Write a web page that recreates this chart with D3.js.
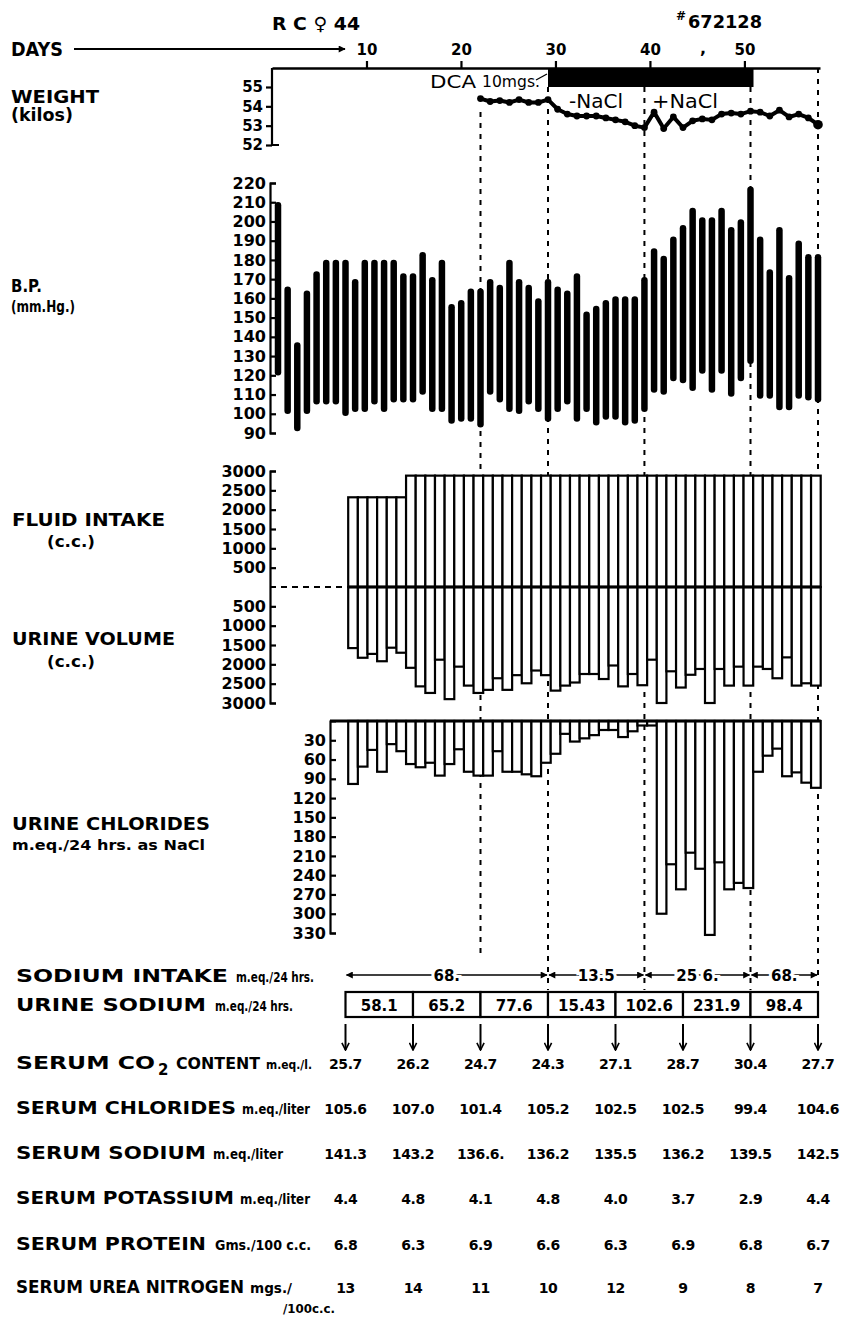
<!DOCTYPE html>
<html>
<head>
<meta charset="utf-8">
<script src="https://cdn.jsdelivr.net/npm/d3@7"></script>
<style>
  body { margin: 0; background: #fff; }
  svg text { font-family: "DejaVu Sans", "Liberation Sans", sans-serif; fill: #000; }
</style>
</head>
<body>
<div id="chart"></div>
<script>
// ---- data ----
const dayTicks = [10, 20, 30, 40, 50];
const markerDays = [22, 29, 39, 50, 57];

const bpDays = d3.range(1, 58);
const bpHigh = [210,166,137,164,174,180,180,180,170,180, 180,180,180,173,173,184,171,180,157,159,
                165,165,170,167,180,170,167,160,170,166, 164,173,153,156,159,161,161,161,171,186,
                182,192,198,207,202,202,207,197,201,218, 192,175,197,172,190,183,183];
const bpLow  = [120,100,91,100,105,105,105,99,101,101, 105,101,106,106,106,110,101,101,95,96,
                96,93,110,106,101,100,105,101,96,101, 105,96,101,94,97,97,94,95,101,111,
                110,117,116,112,121,111,121,109,117,126, 108,108,102,102,108,107,106];

const weightDays = d3.range(22, 58);
const weightKg = [54.4,54.25,54.3,54.2,54.35,54.2,54.2,54.35, 53.85,53.6,53.5,53.5,53.5,53.4,53.3,53.2,
                  53.0,52.9,53.7,52.85,53.45,52.9,53.25,53.35, 53.3,53.6,53.65,53.6,53.75,53.7,53.5,53.8,
                  53.45,53.6,53.4,53.05];

const fluidDays = d3.range(9, 58);
const fluidIntake = [2320,2320,2320,2320,2320,2320,
                     2880,2880,2880,2880,2880,2880,2880,2880,2880,2880,2880,2880,2880,2880,2880,
                     2880,2880,2880,2880,2880,2880,2880,2880,2880,2880,2880,2880,2880,2880,2880,
                     2880,2880,2880,2880,2880,2880,2880,2880,2880,2880,2880,2880,2880];
const urineVolume = [1580,1830,1730,1920,1570,1700,2090,2570,2740,1880,
                     2900,2060,2550,2740,2660,2360,2660,2280,2490,2160,
                     2280,2680,2550,2470,2250,2250,2380,2030,2570,2250,
                     2540,1880,3000,2180,2600,2270,2120,3000,2120,2550,
                     2060,2550,2060,2120,2360,1820,2550,2490,2550];
const urineChlorides = [98,71,45,79,36,47,67,72,65,85, 67,44,79,85,85,47,79,79,83,86,
                        65,51,20,32,27,22,14,14,25,16, 7,7,300,223,262,205,230,333,220,262,
                        252,260,79,54,43,86,80,96,104];

const dcaStart = 29, dcaEnd = 50;

const sodiumIntakeFrom = [8, 29, 39, 50];
const sodiumIntakeTo = [29, 39, 50, 57];
const sodiumIntake = ["68.", "13.5", "25 6.", "68."];

const sampleDays = [8, 15, 22, 29, 36, 43, 50, 57];
const urineSodium = ["58.1", "65.2", "77.6", "15.43", "102.6", "231.9", "98.4"];
const serumCO2 = ["25.7", "26.2", "24.7", "24.3", "27.1", "28.7", "30.4", "27.7"];
const serumChlorides = ["105.6", "107.0", "101.4", "105.2", "102.5", "102.5", "99.4", "104.6"];
const serumSodium = ["141.3", "143.2", "136.6.", "136.2", "135.5", "136.2", "139.5", "142.5"];
const serumPotassium = ["4.4", "4.8", "4.1", "4.8", "4.0", "3.7", "2.9", "4.4"];
const serumProtein = ["6.8", "6.3", "6.9", "6.6", "6.3", "6.9", "6.8", "6.7"];
const serumUrea = ["13", "14", "11", "10", "12", "9", "8", "7"];

// ---- drawing ----
const W = 849, H = 1318;
const svg = d3.select("#chart").append("svg")
  .attr("width", W).attr("height", H).attr("viewBox", `0 0 ${W} ${H}`);
svg.append("rect").attr("width", W).attr("height", H).attr("fill", "#fff");

const defs = svg.append("defs");
defs.append("marker").attr("id", "head").attr("viewBox", "0 0 10 10")
  .attr("refX", 9).attr("refY", 5).attr("markerWidth", 9).attr("markerHeight", 7)
  .attr("markerUnits", "userSpaceOnUse").attr("orient", "auto-start-reverse")
  .append("path").attr("d", "M0,0L10,5L0,10Z").attr("fill", "#000");
defs.append("marker").attr("id", "vee").attr("viewBox", "0 0 10 10")
  .attr("refX", 9).attr("refY", 5).attr("markerWidth", 9).attr("markerHeight", 9)
  .attr("markerUnits", "userSpaceOnUse").attr("orient", "auto")
  .append("path").attr("d", "M1,1L9,5L1,9").attr("fill", "none").attr("stroke", "#000").attr("stroke-width", 1.8);

// day scale (one bar per day) and the printed day axis
const x = d3.scaleLinear().domain([1, 57]).range([278, 818]);
const step = x(2) - x(1);
const xDays = d3.scaleLinear().domain([0, 58]).range([272, 820]);

const yW = d3.scaleLinear().domain([52, 55]).range([145, 87]);
const yBP = d3.scaleLinear().domain([90, 220]).range([433, 183]);
const yF = d3.scaleLinear().domain([-3000, 3000]).range([703, 471]);
const yC = d3.scaleLinear().domain([0, 330]).range([721, 933]);

function txt(x0, y0, s, size, opts = {}) {
  const t = svg.append("text").attr("x", x0).attr("y", y0)
    .attr("font-size", size).attr("font-weight", opts.weight || "bold")
    .attr("text-anchor", opts.anchor || "start").text(s);
  if (opts.width) t.attr("textLength", opts.width).attr("lengthAdjust", "spacingAndGlyphs");
  return t;
}

function styleAxis(g, size) {
  g.attr("font-size", null).attr("font-family", null);
  g.selectAll("text").attr("font-size", size).attr("font-weight", "bold").attr("fill", "#000");
  g.selectAll("line, path").attr("stroke", "#000").attr("stroke-width", 2.2);
}

// dashed guide lines (drawn first, bars cover them)
const dashTop = { 22: 112, 29: 87, 39: 87, 50: 87, 57: 68 };
const dashBottom = { 22: 958, 29: 990, 39: 990, 50: 990, 57: 990 };
svg.append("g").selectAll("line").data(markerDays).join("line")
  .attr("x1", d => x(d)).attr("x2", d => x(d))
  .attr("y1", d => dashTop[d]).attr("y2", d => dashBottom[d])
  .attr("stroke", "#000").attr("stroke-width", 2).attr("stroke-dasharray", "5,6");

// ---- header ----
txt(272, 30, "R C \u2640 44", 18, { width: 88 });
txt(688, 28, "672128", 18, { width: 74 });
txt(676, 20, "#", 12);
txt(11, 56, "DAYS", 19, { width: 52 });
svg.append("line").attr("x1", 74).attr("x2", 345).attr("y1", 49).attr("y2", 49)
  .attr("stroke", "#000").attr("stroke-width", 2).attr("marker-end", "url(#head)");
txt(700, 54, ",", 16);

const topAxis = svg.append("g").attr("transform", "translate(0,68)")
  .call(d3.axisTop(xDays).tickValues(dayTicks).tickSize(7).tickSizeOuter(0).tickPadding(6));
styleAxis(topAxis, 15);
topAxis.select(".domain").attr("stroke-width", 2.5);

// ---- weight ----
txt(11, 103, "WEIGHT", 18, { width: 88 });
txt(11, 121, "(kilos)", 17, { width: 62 });
const wAxis = svg.append("g").attr("transform", "translate(272,0)")
  .call(d3.axisLeft(yW).tickValues([52, 53, 54, 55]).tickFormat(d3.format("d"))
    .tickSize(6).tickSizeOuter(0).tickPadding(3));
styleAxis(wAxis, 15);
wAxis.select(".domain").remove();
svg.append("path").attr("d", `M272,68V${yW(52)}H279`).attr("fill", "none")
  .attr("stroke", "#000").attr("stroke-width", 2.2);

// DCA bar and labels
svg.append("rect").attr("x", x(dcaStart)).attr("y", 68)
  .attr("width", x(dcaEnd) - x(dcaStart) + 3).attr("height", 19).attr("fill", "#000");
txt(430, 88, "DCA", 17, { weight: "normal", width: 46 });
txt(482, 87, "10mgs.", 15, { weight: "normal", width: 58 });
svg.append("path").attr("d", `M536,80L${x(dcaStart) - 1},74`).attr("stroke", "#000")
  .attr("stroke-width", 1.3).attr("fill", "none");
txt(569, 108, "-NaCl", 19, { weight: "normal", width: 54 });
txt(652, 108, "+NaCl", 19, { weight: "normal", width: 66 });

const wLine = d3.line().x((d, i) => x(weightDays[i])).y(d => yW(d)).curve(d3.curveLinear);
svg.append("path").datum(weightKg).attr("d", wLine).attr("fill", "none")
  .attr("stroke", "#000").attr("stroke-width", 4).attr("stroke-linejoin", "round");
svg.append("g").selectAll("circle").data(weightKg).join("circle")
  .attr("cx", (d, i) => x(weightDays[i])).attr("cy", d => yW(d)).attr("r", 3.4).attr("fill", "#000");
svg.append("circle").attr("cx", x(57)).attr("cy", yW(weightKg[weightKg.length - 1])).attr("r", 4.8);

// ---- blood pressure ----
txt(11, 292, "B.P.", 17, { width: 31 });
txt(11, 312, "(mm.Hg.)", 16, { width: 64 });
const bpAxis = svg.append("g").attr("transform", "translate(270,0)")
  .call(d3.axisLeft(yBP).tickValues(d3.range(90, 221, 10)).tickSize(-6).tickSizeOuter(-6).tickPadding(4));
styleAxis(bpAxis, 16);
svg.append("g").selectAll("line").data(bpDays).join("line")
  .attr("x1", d => x(d)).attr("x2", d => x(d))
  .attr("y1", (d, i) => yBP(bpHigh[i]) + 3).attr("y2", (d, i) => yBP(bpLow[i]) - 3)
  .attr("stroke", "#000").attr("stroke-width", 6.5).attr("stroke-linecap", "round");

// ---- fluid intake / urine volume ----
txt(12, 526, "FLUID INTAKE", 17, { width: 153 });
txt(47, 547, "(c.c.)", 16, { width: 48 });
txt(12, 645, "URINE VOLUME", 17, { width: 163 });
txt(47, 667, "(c.c.)", 16, { width: 48 });
const fTicks = [3000, 2500, 2000, 1500, 1000, 500, -500, -1000, -1500, -2000, -2500, -3000];
const fAxis = svg.append("g").attr("transform", "translate(270,0)")
  .call(d3.axisLeft(yF).tickValues(fTicks).tickFormat(d => Math.abs(d))
    .tickSize(-6).tickSizeOuter(-6).tickPadding(4));
styleAxis(fAxis, 16);
svg.append("line").attr("x1", 270).attr("x2", x(fluidDays[0]) - step * 0.72)
  .attr("y1", yF(0)).attr("y2", yF(0))
  .attr("stroke", "#000").attr("stroke-width", 2).attr("stroke-dasharray", "6,5");

const barLeft = d => x(d) - step * 0.72;
svg.append("g").selectAll("rect").data(fluidIntake).join("rect")
  .attr("x", (d, i) => barLeft(fluidDays[i])).attr("width", step)
  .attr("y", d => yF(d)).attr("height", d => yF(0) - yF(d))
  .attr("fill", "#fff").attr("stroke", "#000").attr("stroke-width", 2.2);
svg.append("g").selectAll("rect").data(urineVolume).join("rect")
  .attr("x", (d, i) => barLeft(fluidDays[i])).attr("width", step)
  .attr("y", yF(0)).attr("height", d => yF(-d) - yF(0))
  .attr("fill", "#fff").attr("stroke", "#000").attr("stroke-width", 2.2);
svg.append("line").attr("x1", barLeft(fluidDays[0])).attr("x2", barLeft(57) + step)
  .attr("y1", yF(0)).attr("y2", yF(0)).attr("stroke", "#000").attr("stroke-width", 2.8);

// ---- urine chlorides ----
txt(12, 830, "URINE CHLORIDES", 17, { width: 198 });
txt(12, 850, "m.eq./24 hrs. as NaCl", 14, { width: 193 });
const cAxis = svg.append("g").attr("transform", "translate(330,0)")
  .call(d3.axisLeft(yC).tickValues(d3.range(30, 331, 30)).tickSize(-6).tickSizeOuter(-6).tickPadding(4));
styleAxis(cAxis, 16);
svg.append("g").selectAll("rect").data(urineChlorides).join("rect")
  .attr("x", (d, i) => barLeft(fluidDays[i])).attr("width", step)
  .attr("y", yC(0)).attr("height", d => yC(d) - yC(0))
  .attr("fill", "#fff").attr("stroke", "#000").attr("stroke-width", 2.2);
svg.append("line").attr("x1", 330).attr("x2", barLeft(57) + step)
  .attr("y1", yC(0)).attr("y2", yC(0)).attr("stroke", "#000").attr("stroke-width", 2.8);

// ---- sodium intake arrows ----
txt(16, 982, "SODIUM INTAKE", 18, { width: 212 });
txt(236, 982, "m.eq./24 hrs.", 14, { width: 78 });
const naG = svg.append("g");
naG.selectAll("line").data(sodiumIntake).join("line")
  .attr("x1", (d, i) => x(sodiumIntakeFrom[i]) + 1).attr("x2", (d, i) => x(sodiumIntakeTo[i]) - 1)
  .attr("y1", 975).attr("y2", 975).attr("stroke", "#000").attr("stroke-width", 1.6)
  .attr("marker-start", "url(#head)").attr("marker-end", "url(#head)");
naG.selectAll("text").data(sodiumIntake).join("text")
  .attr("x", (d, i) => (x(sodiumIntakeFrom[i]) + x(sodiumIntakeTo[i])) / 2)
  .attr("y", 981).attr("text-anchor", "middle").attr("font-size", 15).attr("font-weight", "bold")
  .attr("stroke", "#fff").attr("stroke-width", 6).attr("paint-order", "stroke")
  .text(d => d);

// ---- urine sodium boxes ----
txt(16, 1011, "URINE SODIUM", 18, { width: 190 });
txt(215, 1011, "m.eq./24 hrs.", 14, { width: 78 });
const boxG = svg.append("g");
boxG.selectAll("rect").data(urineSodium).join("rect")
  .attr("x", (d, i) => x(sampleDays[i])).attr("width", (d, i) => x(sampleDays[i + 1]) - x(sampleDays[i]))
  .attr("y", 992).attr("height", 25)
  .attr("fill", "#fff").attr("stroke", "#000").attr("stroke-width", 2.2);
boxG.selectAll("text").data(urineSodium).join("text")
  .attr("x", (d, i) => (x(sampleDays[i]) + x(sampleDays[i + 1])) / 2).attr("y", 1011)
  .attr("text-anchor", "middle").attr("font-size", 15).attr("font-weight", "bold").text(d => d);

// sample arrows
svg.append("g").selectAll("line").data(sampleDays).join("line")
  .attr("x1", d => x(d)).attr("x2", d => x(d)).attr("y1", 1024).attr("y2", 1050)
  .attr("stroke", "#000").attr("stroke-width", 2).attr("marker-end", "url(#vee)");

// ---- serum rows ----
const rows = [
  { vals: serumCO2, y: 1069 },
  { vals: serumChlorides, y: 1114 },
  { vals: serumSodium, y: 1159 },
  { vals: serumPotassium, y: 1204 },
  { vals: serumProtein, y: 1250 },
  { vals: serumUrea, y: 1293 },
];
// labels
txt(16, 1069, "SERUM CO", 18, { width: 139 });
txt(158, 1075, "2", 15);
txt(176, 1069, "CONTENT", 15.5, { width: 84 });
txt(266, 1069, "m.eq./l.", 13, { width: 46 });
txt(16, 1114, "SERUM CHLORIDES", 18, { width: 220 });
txt(242, 1114, "m.eq./liter", 14, { width: 68 });
txt(16, 1159, "SERUM SODIUM", 18, { width: 190 });
txt(213, 1159, "m.eq./liter", 14, { width: 70 });
txt(16, 1204, "SERUM POTASSIUM", 18, { width: 218 });
txt(240, 1204, "m.eq./liter", 14, { width: 70 });
txt(16, 1250, "SERUM PROTEIN", 18, { width: 190 });
txt(215, 1250, "Gms./100 c.c.", 14, { width: 96 });
txt(16, 1293, "SERUM UREA NITROGEN", 17, { width: 228 });
txt(250, 1293, "mgs./", 14, { width: 42 });
txt(283, 1313, "/100c.c.", 13, { width: 52 });

rows.forEach(r => {
  svg.append("g").selectAll("text").data(r.vals).join("text")
    .attr("x", (d, i) => x(sampleDays[i])).attr("y", r.y)
    .attr("text-anchor", "middle").attr("font-size", 14).attr("font-weight", "bold")
    .attr("letter-spacing", -0.4)
    .text(d => d);
});
</script>
</body>
</html>
